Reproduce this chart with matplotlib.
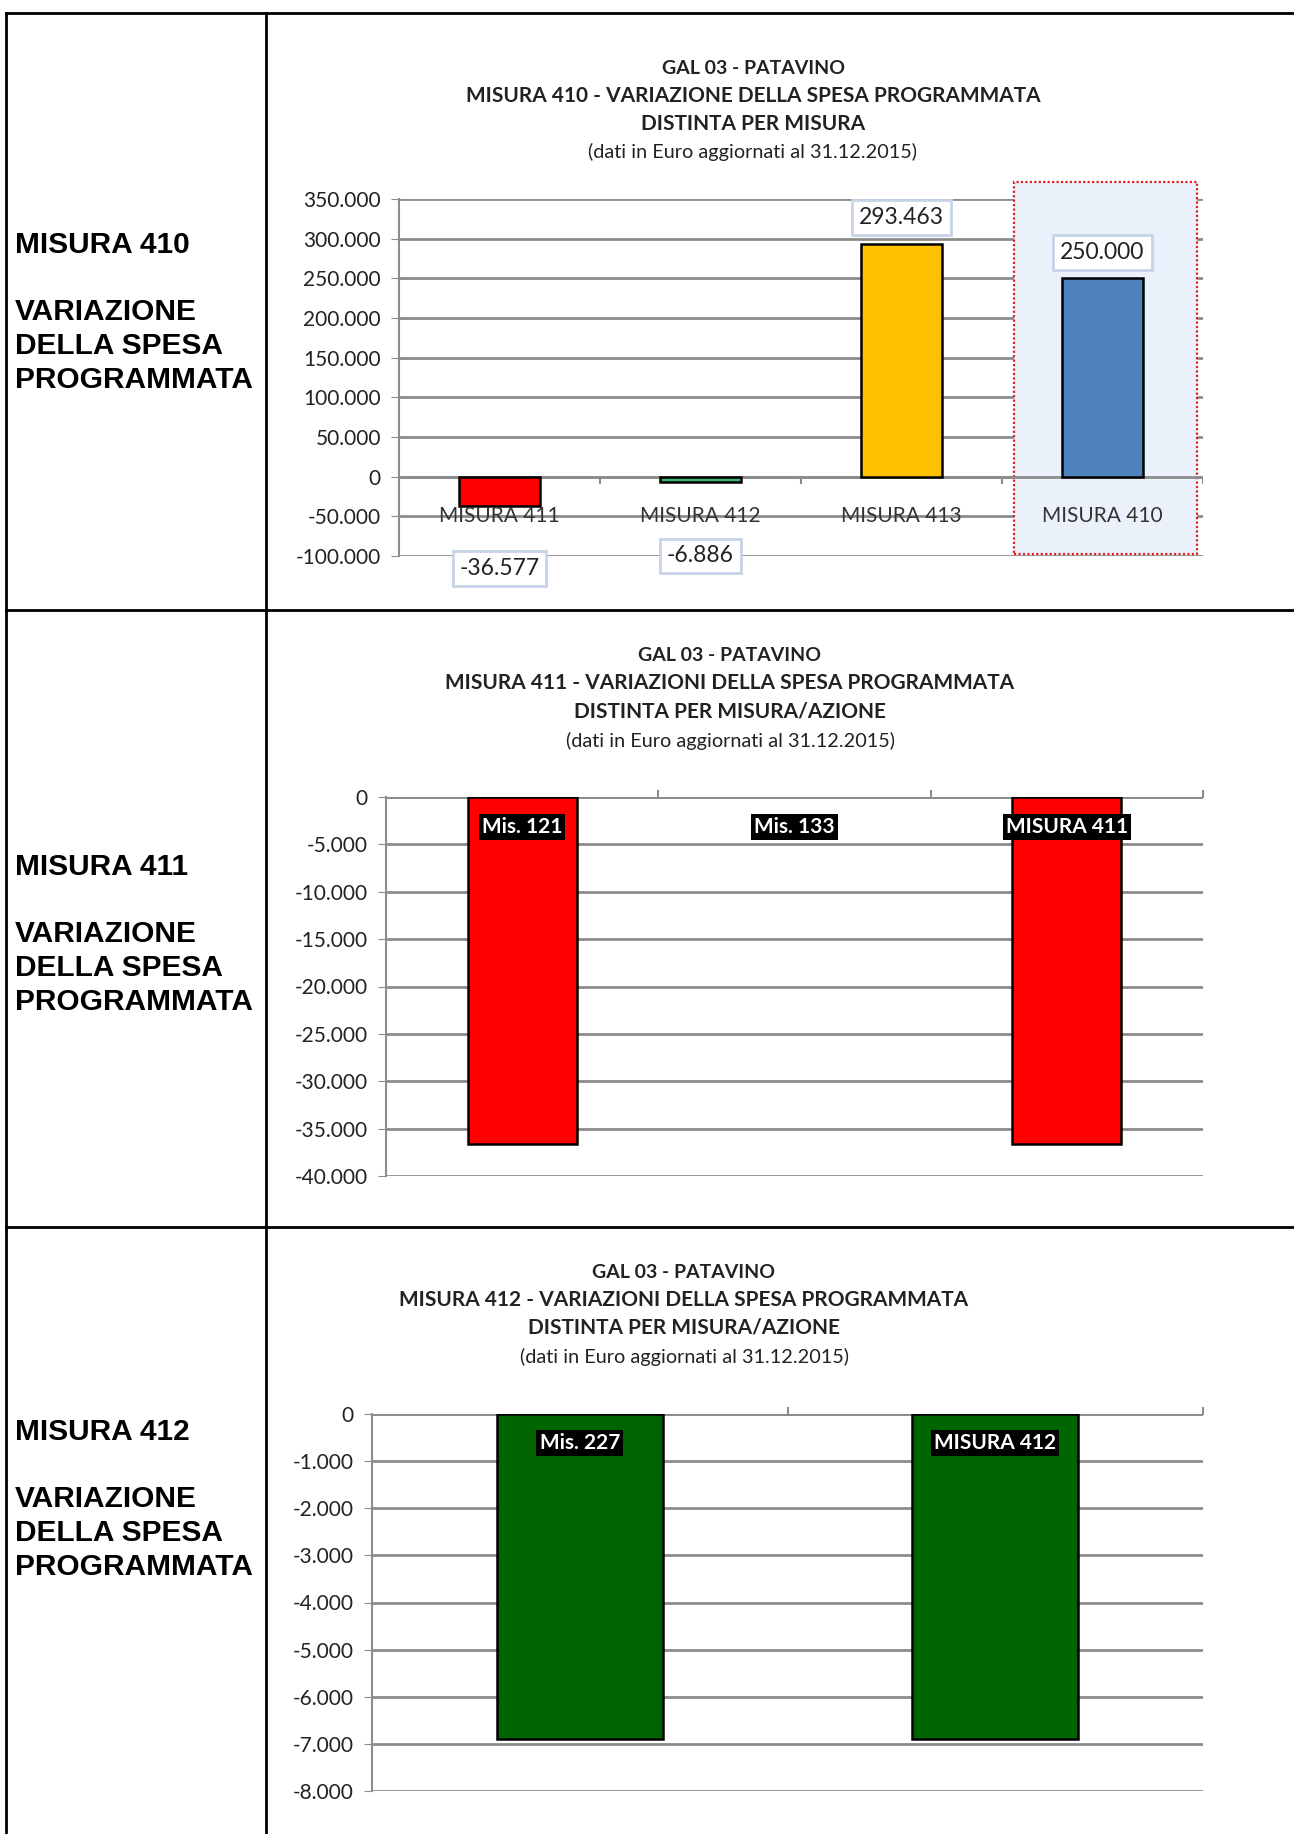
import matplotlib.pyplot as plt
from matplotlib.patches import Rectangle

W, H = 1294, 1834

# chart 1: misura 410
cat_410 = ['MISURA 411', 'MISURA 412', 'MISURA 413', 'MISURA 410']
val_410 = [-36577, -6886, 293463, 250000]
lab_410 = ['-36.577', '-6.886', '293.463', '250.000']
col_410 = ['#FF0000', '#3CB371', '#FFC000', '#4F81BD']

# chart 2: misura 411
cat_411 = ['Mis. 121', 'Mis. 133', 'MISURA 411']
val_411 = [-36577, 0, -36577]

# chart 3: misura 412
cat_412 = ['Mis. 227', 'MISURA 412']
val_412 = [-6886, -6886]

row_titles = ['MISURA 410', 'MISURA 411', 'MISURA 412']
sub = 'dati in Euro aggiornati al 31.12.2015'

plt.rcParams['font.family'] = ['Lato', 'DejaVu Sans']

fig = plt.figure(figsize=(W / 100, H / 100), dpi=100)


def px_axes(x0, y0, x1, y1):
    # pixel box (top-left origin) -> figure axes
    return fig.add_axes([x0 / W, 1 - y1 / H, (x1 - x0) / W, (y1 - y0) / H])


def fmt(v):
    s = f'{abs(int(v)):,}'.replace(',', '.')
    return ('-' if v < 0 else '') + s


def style(ax, ticks, lo, hi):
    ax.set_ylim(lo, hi)
    ax.set_yticks(ticks)
    ax.set_yticklabels([fmt(t) for t in ticks], fontsize=15, color='#222222')
    for t in ticks:
        ax.axhline(t, color='#8C8C8C', lw=2, zorder=0)
    for s in ['top', 'right', 'bottom']:
        ax.spines[s].set_visible(False)
    ax.spines['left'].set_color('#8C8C8C')
    ax.spines['left'].set_linewidth(1.5)
    ax.tick_params(axis='y', length=6, color='#8C8C8C', pad=7)
    ax.tick_params(axis='x', length=0)
    ax.set_xticks([])
    ax.patch.set_alpha(0)


def titles(xc, ys, line2, line3):
    lines = ['GAL 03 - PATAVINO', line2, line3]
    sizes = [14, 15, 15]
    for y, t, fs in zip(ys[:3], lines, sizes):
        fig.text(xc / W, 1 - y / H, t, ha='center', va='center', fontsize=fs,
                 fontweight='bold', color='#222222')
    fig.text(xc / W, 1 - ys[3] / H, '(' + sub + ')', ha='center', va='center',
             fontsize=14.3, color='#222222')


def bar_labels(ax, cats, y):
    for i, c in enumerate(cats):
        ax.text(i, y, c, ha='center', va='center', fontsize=15, color='white',
                fontweight='bold', zorder=4,
                bbox=dict(boxstyle='square,pad=0.15', fc='black', ec='none'))


# table grid
lw = 2
fig.add_artist(plt.Line2D([6 / W, 1], [1 - 13 / H] * 2, color='black', lw=lw))
fig.add_artist(plt.Line2D([6 / W] * 2, [0, 1 - 13 / H], color='black', lw=lw))
fig.add_artist(plt.Line2D([266 / W] * 2, [0, 1 - 13 / H], color='black', lw=lw))
for yy in [610, 1227]:
    fig.add_artist(plt.Line2D([6 / W, 1], [1 - yy / H] * 2, color='black', lw=lw))

# left column texts
for name, y0 in zip(row_titles, [245, 867, 1432]):
    fig.text(15 / W, 1 - y0 / H, name, ha='left', va='center', fontsize=21.5,
             fontweight='bold', family='Liberation Sans')
    for i, t in enumerate(['VARIAZIONE', 'DELLA SPESA', 'PROGRAMMATA']):
        fig.text(15 / W, 1 - (y0 + 67 + 34 * i) / H, t, ha='left', va='center',
                 fontsize=21.5, fontweight='bold', family='Liberation Sans')

# ---- chart 1 ----
titles(753, [68, 96, 124, 152], 'MISURA 410 - VARIAZIONE DELLA SPESA PROGRAMMATA',
       'DISTINTA PER MISURA')
ax1 = px_axes(399, 199, 1203, 556)
x1 = range(len(cat_410))
ax1.set_xlim(-0.5, 3.5)
style(ax1, list(range(-100000, 350001, 50000)), -100000, 350000)
ax1.add_patch(Rectangle((2.56, -98000), 0.91, 470000, facecolor='#EAF1FA',
                        edgecolor='#E02020', ls=(0, (1, 1)), lw=1.6, zorder=0.5,
                        clip_on=False))
ax1.bar(x1, val_410, width=0.40, color=col_410, edgecolor='black', lw=1.8, zorder=2)
ax1.axhline(0, color='#8C8C8C', lw=2, zorder=1)
for xt in [0.5, 1.5, 2.5, 3.5]:
    ax1.plot([xt, xt], [0, -8000], color='#8C8C8C', lw=1.5, zorder=1)
for i, c in enumerate(cat_410):
    ax1.text(i, -50000, c, ha='center', va='center', fontsize=15, color='#333333', zorder=3)
lab_y = [-116000, -100000, 327000, 283000]
for i, (l, y) in enumerate(zip(lab_410, lab_y)):
    ax1.text(i, y, l, ha='center', va='center', fontsize=16.5, color='#222222', zorder=4,
             clip_on=False,
             bbox=dict(boxstyle='square,pad=0.3', fc='white', ec='#C6D4E8', lw=2))

# ---- chart 2 ----
titles(730, [655, 683, 712, 741], 'MISURA 411 - VARIAZIONI DELLA SPESA PROGRAMMATA',
       'DISTINTA PER MISURA/AZIONE')
ax2 = px_axes(386, 797, 1203, 1176)
x2 = range(len(cat_411))
ax2.set_xlim(-0.5, 2.5)
style(ax2, list(range(-40000, 1, 5000)), -40000, 0)
ax2.bar(x2, val_411, width=0.40, color='#FF0000',
        edgecolor=['black' if v != 0 else 'none' for v in val_411], lw=1.8, zorder=2)
ax2.axhline(0, color='#8C8C8C', lw=2, zorder=1)
for xt in [0.5, 1.5, 2.5]:
    ax2.plot([xt, xt], [0, 600], color='#8C8C8C', lw=1.5, zorder=1, clip_on=False)
bar_labels(ax2, cat_411, -3200)

# ---- chart 3 ----
titles(684, [1272, 1300, 1328, 1357], 'MISURA 412 - VARIAZIONI DELLA SPESA PROGRAMMATA',
       'DISTINTA PER MISURA/AZIONE')
ax3 = px_axes(372, 1414, 1203, 1791)
x3 = range(len(cat_412))
ax3.set_xlim(-0.5, 1.5)
style(ax3, list(range(-8000, 1, 1000)), -8000, 0)
ax3.bar(x3, val_412, width=0.40, color='#006400', edgecolor='black', lw=1.8, zorder=2)
ax3.axhline(0, color='#8C8C8C', lw=2, zorder=1)
for xt in [0.5, 1.5]:
    ax3.plot([xt, xt], [0, 120], color='#8C8C8C', lw=1.5, zorder=1, clip_on=False)
bar_labels(ax3, cat_412, -620)

fig.savefig('out.png', dpi=100, facecolor='white')
